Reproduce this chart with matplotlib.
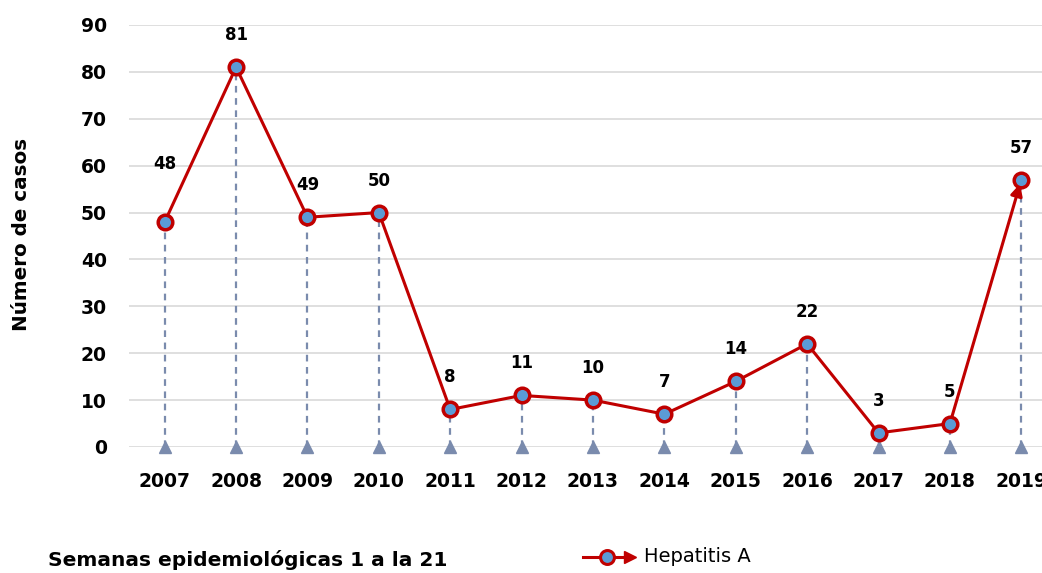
import matplotlib.pyplot as plt
import numpy as np

years = ["2007", "2008", "2009", "2010", "2011", "2012", "2013",
         "2014", "2015", "2016", "2017", "2018", "2019"]
cases = [48, 81, 49, 50, 8, 11, 10, 7, 14, 22, 3, 5, 57]
label_offsets = [58, 32, 32, 32, 32, 32, 32, 32, 32, 32, 32, 32, 32]  # px above point

RED = "#C00000"
BLUE = "#5B9BD5"
STEM = "#7A8BAD"
GRID = "#D9D9D9"

plt.rcParams["font.family"] = ["DejaVu Sans"]

fig = plt.figure(figsize=(10.42, 5.73), dpi=100)
ax = fig.add_axes([129 / 1042, 1 - 447 / 573, 928 / 1042, 422 / 573])

x = np.arange(len(years))

ax.vlines(x, 0, cases, colors=STEM, linestyles=(0, (3, 2.5)), linewidth=1.6, zorder=2)
ax.plot(x, np.zeros(len(x)), "^", color=STEM, markersize=9, zorder=3, clip_on=False)

ax.plot(x[:-1], cases[:-1], color=RED, linewidth=2.2, zorder=4)
ax.annotate("", xy=(x[-1], cases[-1]), xytext=(x[-2], cases[-2]),
            arrowprops=dict(arrowstyle="-|>,head_length=0.7,head_width=0.35",
                            color=RED, lw=2.2, shrinkA=0, shrinkB=3),
            zorder=4)
ax.plot(x, cases, "o", markersize=10.5, markerfacecolor=BLUE, markeredgecolor=RED,
        markeredgewidth=2.5, linestyle="none", zorder=5)

for xi, v, off in zip(x, cases, label_offsets):
    ax.annotate(str(v), (xi, v), xytext=(0, off * 0.72), textcoords="offset points",
                ha="center", va="center", fontsize=12, fontweight="bold")

ax.set_xlim(-0.5, len(years) - 0.5)
ax.set_ylim(0, 90)
ax.set_yticks(range(0, 91, 10))
ax.set_xticks(x)
ax.set_xticklabels(years)
ax.yaxis.grid(True, color=GRID, linewidth=1.2)
ax.set_axisbelow(True)
for s in ax.spines.values():
    s.set_visible(False)
ax.tick_params(length=0, labelsize=13.5)
ax.tick_params(axis="y", pad=16)
ax.tick_params(axis="x", pad=18)
for lbl in ax.get_xticklabels() + ax.get_yticklabels():
    lbl.set_fontweight("bold")

fig.text(22 / 1042, 1 - 234 / 573, "Número de casos", rotation=90, ha="center", va="center",
         fontsize=14.3, fontweight="bold")
fig.text(48 / 1042, 1 - 560 / 573, "Semanas epidemiológicas 1 a la 21", ha="left", va="center",
         fontsize=14.5, fontweight="bold")

# legend
ly = 1 - 557 / 573
fig.add_artist(plt.Line2D([583 / 1042, 624 / 1042], [ly, ly], color=RED, linewidth=2.2))
fig.add_artist(plt.Line2D([607 / 1042], [ly], marker="o", markersize=10, markerfacecolor=BLUE,
                          markeredgecolor=RED, markeredgewidth=2.2))
fig.add_artist(plt.Line2D([630 / 1042], [ly], marker=">", markersize=9, color=RED))
fig.text(644 / 1042, ly, "Hepatitis A", ha="left", va="center", fontsize=14)

fig.savefig("out.png", dpi=100)
